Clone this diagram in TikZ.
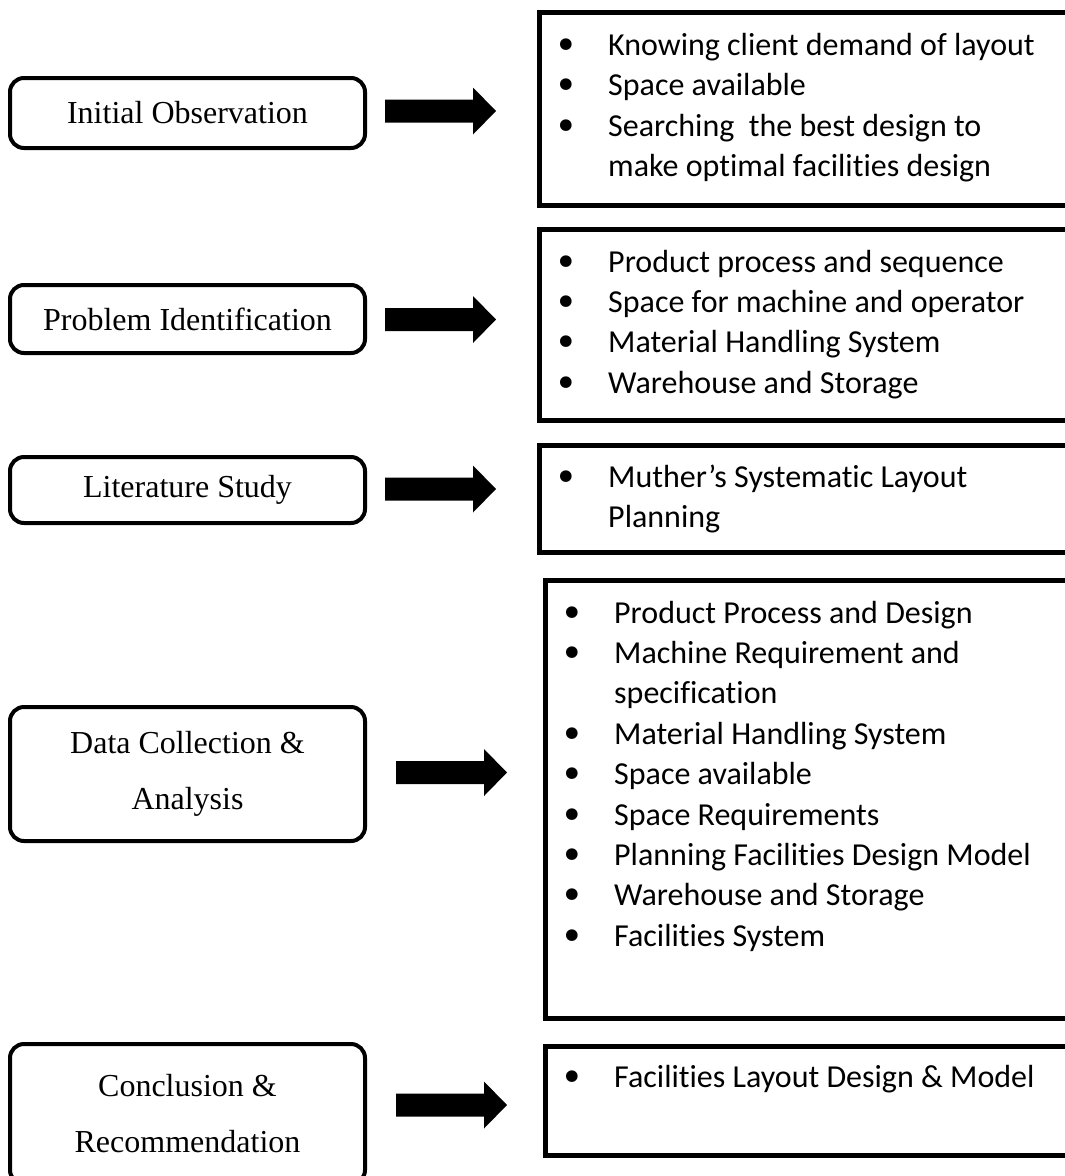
\documentclass[tikz,border=0pt]{standalone}
\usepackage{fontspec}
\setmainfont{Liberation Serif}
\newfontfamily\itemfont[Ligatures=NoCommon]{Carlito}
\newfontfamily\dotfont{DejaVu Sans}
\usetikzlibrary{calc}
% filled block arrow starting at the given coordinate, pointing right
\newcommand\fatarrow[1]{%
  \fill[flow] (#1) ++(0,-11.5) -- ++(88,0) -- ++(0,-12) -- ++(23,23.5)
    -- ++(-23,23.5) -- ++(0,-12) -- ++(-88,0) -- cycle;}
\begin{document}
\begin{tikzpicture}[x=1pt,y=-1pt,
  stage/.style={draw, line width=4pt, rounded corners=14pt, minimum width=355pt,
    inner sep=0pt, align=center, font=\fontsize{32}{56}\selectfont},
  frame/.style={draw, line width=5pt, anchor=north west, minimum width=560pt, inner sep=0pt},
  itemtext/.style={anchor=base west, inner sep=0pt, font=\itemfont\fontsize{32}{40}\selectfont},
  bulletmark/.style={anchor=base, inner sep=0pt, font=\dotfont\fontsize{40}{40}\selectfont},
  flow/.style={fill=black}]
\clip (0,0) rectangle (1065,1176);
\fill[white] (0,0) rectangle (1065,1176);

% process stages
\node[stage, minimum height=70pt]  (L1) at (187.5,113)  {Initial Observation};
\node[stage, minimum height=68pt]  (L2) at (187.5,319)  {Problem Identification};
\node[stage, minimum height=66pt]  (L3) at (187.5,490)  {Literature Study};
\node[stage, minimum height=134pt] (L4) at (187.5,774)  {Data Collection \&\\Analysis};
\node[stage, minimum height=140pt] (L5) at (187.5,1114) {Conclusion \&\\Recommendation};

% detail frames
\node[frame, minimum height=193pt] (R1) at (536.5,9.5)   {};
\node[frame, minimum height=191pt] (R2) at (536.5,226.5) {};
\node[frame, minimum height=107pt] (R3) at (536.5,442.5) {};
\node[frame, minimum height=438pt] (R4) at (542.5,577.5) {};
\node[frame, minimum height=109pt] (R5) at (542.5,1043.5) {};

% bulleted lists: 1 = new item, 0 = continuation line
\foreach \fr/\top/\items in {%
  R1/46/{1/Knowing client demand of layout, 1/Space available, 1/{Searching~ the best design to}, 0/make optimal facilities design},
  R2/45.5/{1/Product process and sequence, 1/Space for machine and operator, 1/Material Handling System, 1/Warehouse and Storage},
  R3/44.5/{1/Muther’s Systematic Layout, 0/Planning},
  R4/45.5/{1/Product Process and Design, 1/Machine Requirement and, 0/specification, 1/Material Handling System, 1/Space available, 1/Space Requirements, 1/Planning Facilities Design Model, 1/Warehouse and Storage, 1/Facilities System},
  R5/43.5/{1/Facilities Layout Design \& Model}}{
  \foreach \b/\txt [count=\i] in \items {
    \node[itemtext] (\fr-t\i) at ($(\fr.north west)+(71.5,\top+40.4*\i-40.4)$) {\txt};
    \ifnum\b=1
      \node[bulletmark] (\fr-b\i) at ($(\fr.north west)+(30,\top+40.4*\i-40.4+4)$) {•};
    \fi
  }
}

% block arrows from each stage to its frame
\coordinate (a1) at ($(L1.east)+(18,-2)$);
\coordinate (a2) at ($(L2.east)+(18,0.5)$);
\coordinate (a3) at ($(L3.east)+(18,-1)$);
\coordinate (a4) at ($(L4.east)+(29,-1.5)$);
\coordinate (a5) at ($(L5.east)+(29,-9)$);
\fatarrow{a1}
\fatarrow{a2}
\fatarrow{a3}
\fatarrow{a4}
\fatarrow{a5}
\end{tikzpicture}
\end{document}
